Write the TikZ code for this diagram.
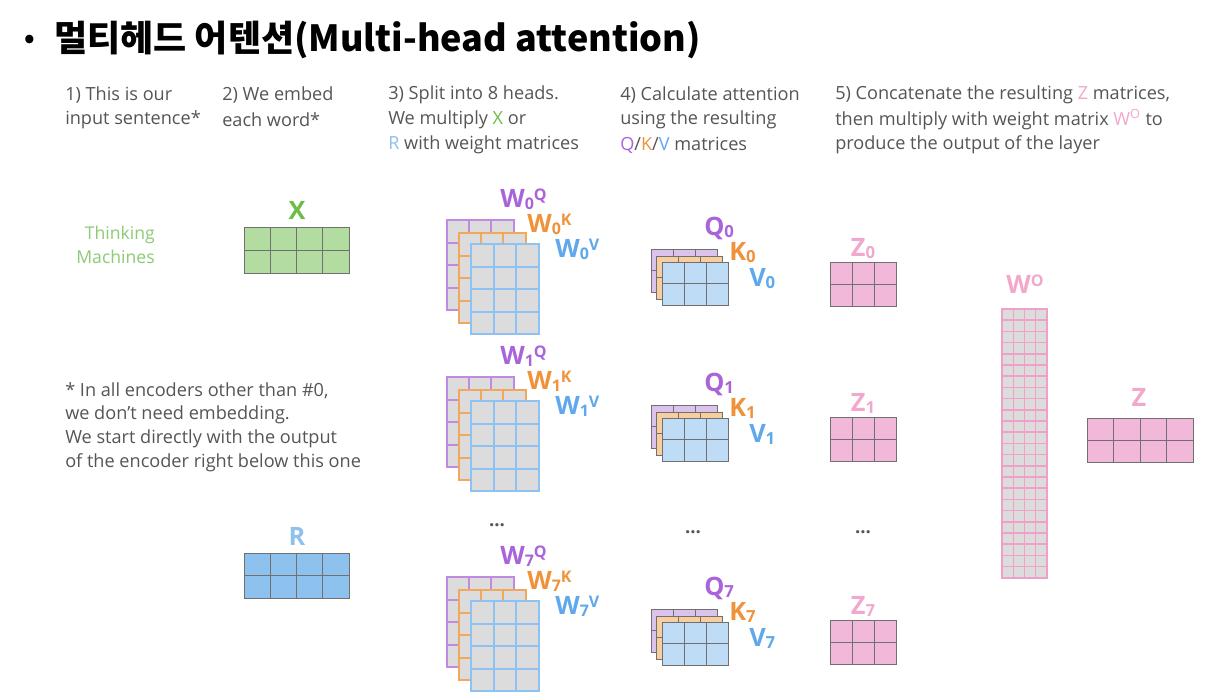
\documentclass[tikz,border=0pt]{standalone}
\usepackage{fontspec}
\setmainfont{Open Sans}
\newfontfamily\krfont{Noto Sans CJK KR}
\definecolor{txt}{HTML}{555555}
\definecolor{qcol}{HTML}{A964DA}
\definecolor{kcol}{HTML}{F0923A}
\definecolor{vcol}{HTML}{5FA8EC}
\definecolor{qline}{HTML}{C08AE0}
\definecolor{kline}{HTML}{F2A75A}
\definecolor{vline}{HTML}{8EC2F2}
\definecolor{qfill}{HTML}{DCC3EE}
\definecolor{kfill}{HTML}{F8CE9E}
\definecolor{vfill}{HTML}{BEDCF6}
\definecolor{wfill}{HTML}{DCDCDC}
\definecolor{zfill}{HTML}{F2B8D9}
\definecolor{zlab}{HTML}{F2A8CC}
\definecolor{woline}{HTML}{F0A0C8}
\definecolor{xfill}{HTML}{B3DCA0}
\definecolor{xlab}{HTML}{6CBD45}
\definecolor{thk}{HTML}{8CCB74}
\definecolor{rfill}{HTML}{8DC1EE}
\definecolor{rlab}{HTML}{90C0EE}
\definecolor{gridg}{HTML}{707070}
\newcommand\mymat[9]{%
  \pgfmathtruncatemacro\mcA{#3-1}%
  \pgfmathtruncatemacro\mcB{#4-1}%
  \fill[#7] (#1,#2) rectangle ++({#3*#5},{#4*#6});
  \foreach \i in {1,...,\mcA} \draw[#8,line width=#9] ({#1+\i*#5},#2) -- ++(0,{#4*#6});
  \foreach \j in {1,...,\mcB} \draw[#8,line width=#9] (#1,{#2+\j*#6}) -- ++({#3*#5},0);
  \draw[#8,line width=#9] (#1,#2) rectangle ++({#3*#5},{#4*#6});
}
% label pieces: subscript and superscript
\newcommand\lsub[1]{\raisebox{-1.8pt}{\fontsize{12}{12}\selectfont #1}}
\newcommand\lsup[1]{\raisebox{4.6pt}{\fontsize{12}{12}\selectfont #1}}
\newcommand\qsub[1]{\raisebox{-2.2pt}{\fontsize{12.5}{12}\selectfont #1}}
\tikzset{
  desc/.style={anchor=west,text=txt,font=\fontsize{13.6}{15}\selectfont,inner sep=0pt},
  biglab/.style={font=\fontsize{19}{22}\selectfont\bfseries,inner sep=0pt},
  dots/.style={text=txt,font=\fontsize{14}{15}\selectfont\bfseries,inner sep=0pt}
}
\begin{document}
\begin{tikzpicture}[x=0.75pt,y=-0.75pt]
\useasboundingbox[fill=white] (0,0) rectangle (1208,700);
% title
\node[inner sep=0pt,font=\krfont\fontsize{20}{24}\selectfont\bfseries] (bullet) at (30,41) {•};
\node[anchor=west,inner sep=0pt,font=\krfont\fontsize{27}{30}\selectfont\bfseries] (title) at (54,40) {멀티헤드 어텐션(Multi-head attention)};
% header texts
\node[desc] (h1a) at (65,95) {1) This is our};
\node[desc] (h1b) at (65,120) {input sentence*};
\node[desc] (h2a) at (222,95) {2) We embed};
\node[desc] (h2b) at (222,120) {each word*};
\node[desc] (h3a) at (388,95) {3) Split into 8 heads.};
\node[desc] (h3b) at (388,120) {We multiply \textcolor{xlab}{X} or};
\node[desc] (h3c) at (388,145) {\textcolor{rlab}{R} with weight matrices};
\node[desc] (h4a) at (620,95) {4) Calculate attention};
\node[desc] (h4b) at (620,120) {using the resulting};
\node[desc] (h4c) at (620,145) {\textcolor{qcol}{Q}/\textcolor{kcol}{K}/\textcolor{vcol}{V} matrices};
\node[desc] (h5a) at (835,95) {5) Concatenate the resulting \textcolor{zlab}{Z} matrices,};
\node[desc] (h5b) at (835,120) {then multiply with weight matrix \textcolor{zlab}{W\textsuperscript{O}} to};
\node[desc] (h5c) at (835,145) {produce the output of the layer};
% footnote
\node[desc] (f1) at (65,391) {* In all encoders other than \#0,};
\node[desc] (f2) at (65,415) {we don’t need embedding.};
\node[desc] (f3) at (65,439) {We start directly with the output};
\node[desc] (f4) at (65,463) {of the encoder right below this one};
% thinking machines
\node[anchor=east,inner sep=0pt,text=thk,font=\fontsize{13.2}{15}\selectfont] (t1) at (155,235) {Thinking};
\node[anchor=east,inner sep=0pt,text=thk,font=\fontsize{13.2}{15}\selectfont] (t2) at (155,257) {Machines};
% X and R
\mymat{244}{227}{4}{2}{26.25}{23}{xfill}{gridg}{0.75pt}
\node[biglab,text=xlab,anchor=base] (xl) at (297,219) {X};
\mymat{244}{553}{4}{2}{26.25}{22.5}{rfill}{gridg}{0.75pt}
\node[biglab,text=rlab,anchor=base] (rl) at (297,545) {R};
% W groups
\foreach \k/\dy in {0/0,1/157,7/357}{
  \mymat{447}{220+\dy}{3}{4}{22.2}{22.6}{wfill}{qline}{1.5pt}
  \mymat{459}{233+\dy}{3}{4}{22.2}{22.6}{wfill}{kline}{1.5pt}
  \mymat{471}{244+\dy}{3}{4}{22.6}{22.6}{wfill}{vline}{1.5pt}
  \node[biglab,anchor=base west,text=qcol] (wq\k) at (500,207+\dy) {W\lsub{\k}\lsup{Q}};
  \node[biglab,anchor=base west,text=kcol] (wk\k) at (527,232+\dy) {W\lsub{\k}\lsup{K}};
  \node[biglab,anchor=base west,text=vcol] (wv\k) at (555,257+\dy) {W\lsub{\k}\lsup{V}};
}
% QKV groups
\foreach \k/\dy in {0/0,1/156,7/360}{
  \mymat{651}{249+\dy}{3}{2}{22}{21.7}{qfill}{gridg}{0.75pt}
  \mymat{656}{256+\dy}{3}{2}{22}{21.7}{kfill}{gridg}{0.75pt}
  \mymat{662}{262+\dy}{3}{2}{22.3}{21.7}{vfill}{gridg}{0.75pt}
  \node[biglab,anchor=base west,text=qcol] (q\k) at (704,235+\dy) {Q\qsub{\k}};
  \node[biglab,anchor=base west,text=kcol] (kk\k) at (729,260+\dy) {K\qsub{\k}};
  \node[biglab,anchor=base west,text=vcol] (v\k) at (749,286+\dy) {V\qsub{\k}};
}
% Z groups
\foreach \k/\dy in {0/0,1/155,7/358}{
  \mymat{830}{262+\dy}{3}{2}{22.3}{22}{zfill}{gridg}{0.75pt}
  \node[biglab,text=zlab,anchor=base] (z\k) at (863,256+\dy) {Z\qsub{\k}};
}
% dots
\node[dots] (d1) at (497,525) {...};
\node[dots] (d2) at (693,532) {...};
\node[dots] (d3) at (863,532) {...};
% WO
\mymat{1002}{309}{4}{24}{11.25}{11.2}{wfill}{woline}{1.1pt}
\node[biglab,text=zlab,anchor=base] (wo) at (1025,293) {W\lsup{O}};
% Z
\mymat{1087}{418}{4}{2}{26.5}{22}{zfill}{gridg}{0.75pt}
\node[biglab,text=zlab,anchor=base] (zz) at (1139,406) {Z};
\end{tikzpicture}
\end{document}
